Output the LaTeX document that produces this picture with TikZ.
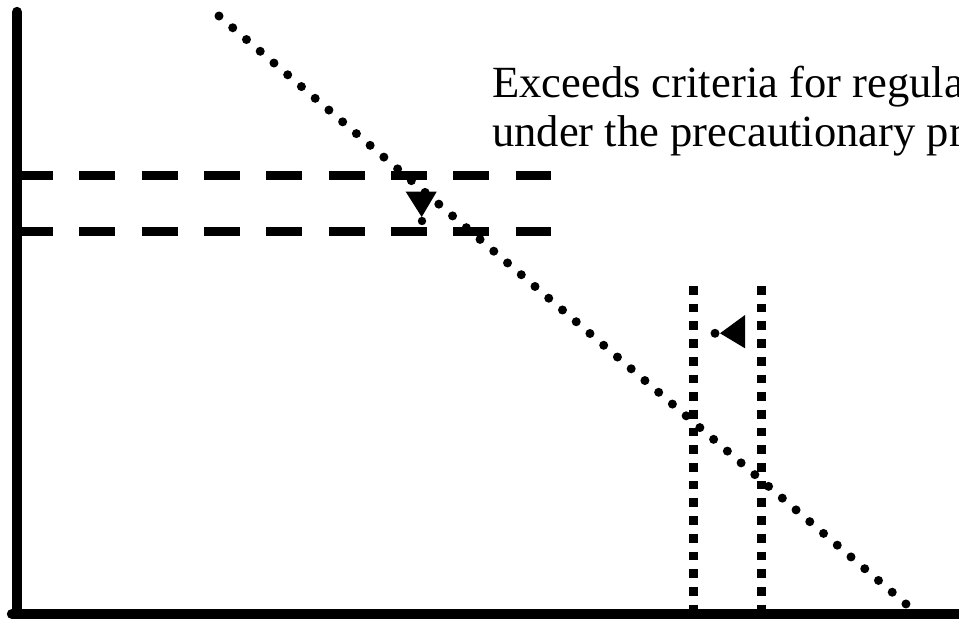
\documentclass[tikz,border=0pt]{standalone}
\usepackage{fontspec}
\setmainfont{Liberation Serif}

\begin{document}
\begin{tikzpicture}[x=0.025cm,y=-0.025cm,
 axis/.style={line width=0.26cm,line cap=round},
 limit/.style={line width=0.225cm,dash pattern=on 0.9cm off 0.6575cm},
 trend/.style={line width=0.225cm,line cap=round,dash pattern=on 0pt off 0.452cm},
 band/.style={line width=0.2175cm,dash pattern=on 0.2175cm off 0.225cm},
 note/.style={anchor=base west,inner sep=0pt,font=\fontsize{31.7}{32}\selectfont}]
\clip (0,0) rectangle (959,618);
% axes
\draw[axis] (17,12)--(17,630);
\draw[axis] (12,614)--(970,614);
% two limits, dashed
\draw[limit] (17,175.5)--(551,175.5);
\draw[limit] (17,231)--(551,231);
% falling trend
\draw[trend] (219,16)--(906,604);
% band between two dotted verticals
\draw[band] (693.3,286)--(693.3,612);
\draw[band] (761.7,286)--(761.7,612);
% markers
\fill (405.7,191.7)--(436.7,191.7)--(421.7,217)--cycle;
\fill (422,221) circle (4.2);
\fill (720,333.3)--(745,315)--(745,348.3)--cycle;
\fill (715,333.3) circle (4.5);
\node[note] (line1) at (492,97.7) {Exceeds criteria for regula};
\node[note] (line2) at (492,146.5) {under the precautionary pr};
\end{tikzpicture}
\end{document}
